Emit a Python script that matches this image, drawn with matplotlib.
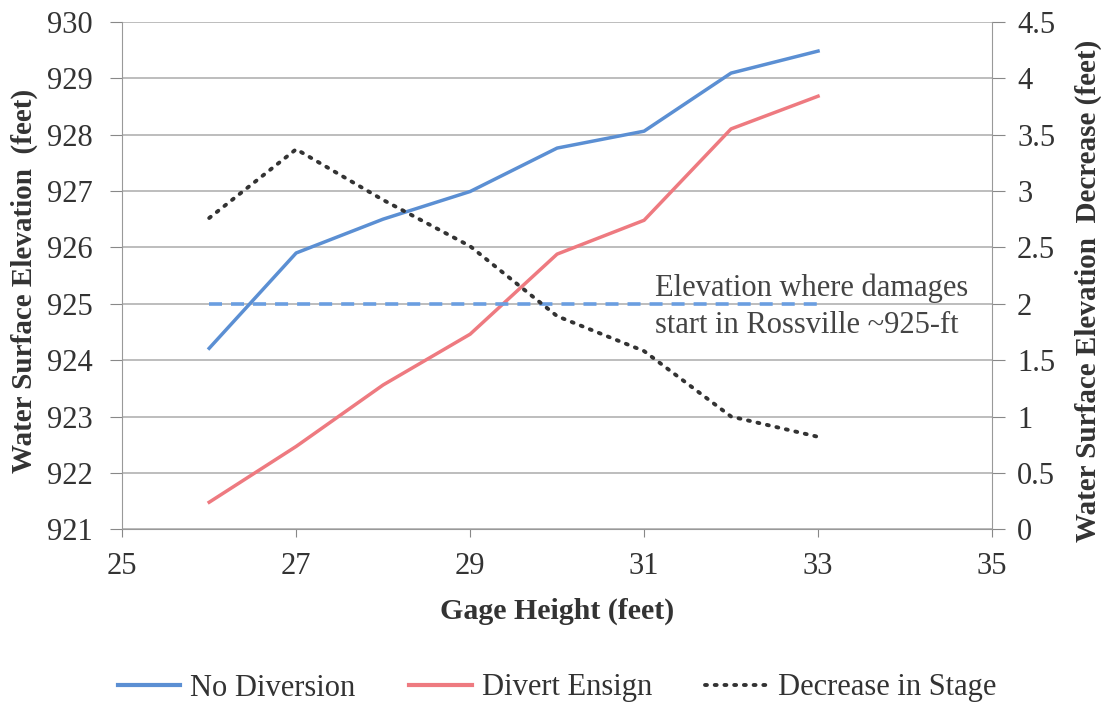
import matplotlib
matplotlib.use("Agg")
import matplotlib.pyplot as plt
from matplotlib.lines import Line2D

gage_height = [26, 27, 28, 29, 30, 31, 32, 33]
no_diversion = [924.21, 925.90, 926.50, 926.99, 927.76, 928.06, 929.09, 929.48]
divert_ensign = [921.48, 922.47, 923.56, 924.46, 925.88, 926.48, 928.10, 928.68]
decrease_stage = [2.76, 3.37, 2.92, 2.51, 1.89, 1.58, 1.00, 0.82]
damage_elev = 925
damage_x = [26, 33]
x_ticks = [25, 27, 29, 31, 33, 35]
left_ticks = list(range(921, 931))
right_ticks = [0, 0.5, 1, 1.5, 2, 2.5, 3, 3.5, 4, 4.5]
right_tick_labels = ['0', '0.5', '1', '1.5', '2', '2.5', '3', '3.5', '4', '4.5']

plt.rcParams['font.family'] = ['Liberation Serif', 'DejaVu Serif']

fig = plt.figure(figsize=(11.01, 7.02), dpi=100)
ax = fig.add_axes([0.111, 0.246, 0.790, 0.723])
ax2 = ax.twinx()

blue = '#5b8fd3'
red = '#ee7a80'
grid_c = '#b8b8b8'
txt = '#333333'
dot_style = (0, (0.5, 2.0))

ax.plot(gage_height, no_diversion, color=blue, lw=2.5, zorder=3)
ax.plot(gage_height, divert_ensign, color=red, lw=2.5, zorder=3)
ax.plot(damage_x, [damage_elev, damage_elev], color='#6a9ee0', lw=2.6,
        dashes=(3.6, 2.5), zorder=3)
ax2.plot(gage_height, decrease_stage, color='#333333', lw=2.8,
         linestyle=dot_style, dash_capstyle='round', zorder=3)

ax.set_xlim(25, 35)
ax.set_ylim(921, 930)
ax2.set_ylim(0, 4.5)
ax.set_xticks(x_ticks)
ax.set_yticks(left_ticks)
ax2.set_yticks(right_ticks)
ax2.set_yticklabels(right_tick_labels)

ax.grid(axis='y', color=grid_c, lw=1.3)
ax.set_axisbelow(True)
for a in (ax, ax2):
    for s in a.spines.values():
        s.set_visible(False)
ax.spines['left'].set_visible(True)
ax.spines['left'].set_color('#999999')
ax.spines['bottom'].set_visible(True)
ax.spines['bottom'].set_color('#999999')
ax2.spines['right'].set_visible(True)
ax2.spines['right'].set_color('#999999')

ax.tick_params(axis='y', labelsize=22, colors='#888888', labelcolor=txt,
               length=9, direction='out', pad=12)
ax.tick_params(axis='x', labelsize=22, colors='#888888', labelcolor=txt,
               length=6, direction='out', pad=10)
ax2.tick_params(axis='y', labelsize=22, colors='#888888', labelcolor=txt,
                length=9, direction='out', pad=9)

ax.set_xlabel('Gage Height (feet)', fontsize=21.5, fontweight='bold', color=txt, labelpad=12)
fig.text(24 / 1101, 1 - 281 / 702, 'Water Surface Elevation  (feet)', rotation=90,
         ha='center', va='center', fontsize=21, fontweight='bold', color=txt)
fig.text(1088 / 1101, 1 - 291 / 702, 'Water Surface Elevation  Decrease (feet)', rotation=90,
         ha='center', va='center', fontsize=21, fontweight='bold', color=txt)

ax.text(31.12, 924.95, 'Elevation where damages\nstart in Rossville ~925-ft',
        fontsize=22, color='#444444', ha='left', va='center', linespacing=1.39, zorder=4)

handles = [Line2D([], [], color=blue, lw=3),
           Line2D([], [], color=red, lw=3),
           Line2D([], [], color='#333333', lw=2.8, linestyle=dot_style,
                  dash_capstyle='round')]
fig.legend(handles, ['No Diversion', 'Divert Ensign', 'Decrease in Stage'],
           loc='center', bbox_to_anchor=(557 / 1101, 1 - 688 / 702), ncol=3, frameon=False,
           fontsize=22, handlelength=2.05, handletextpad=0.33, columnspacing=1.75,
           labelcolor=txt, borderaxespad=0, borderpad=0)

fig.savefig('out.png', dpi=100)
